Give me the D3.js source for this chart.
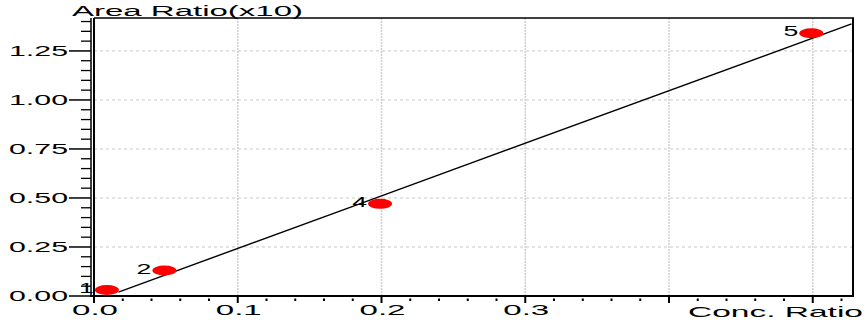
<!DOCTYPE html>
<html><head><meta charset="utf-8">
<script src="https://cdn.jsdelivr.net/npm/d3@7"></script>
<style>html,body{margin:0;padding:0;background:#fff;}svg{display:block;}</style>
</head><body>
<script>
// ---- data ----
const pointLabels = ["1", "2", "4", "5"];
const concRatio = [0.009, 0.049, 0.199, 0.499];
const areaRatio = [0.031, 0.13, 0.47, 1.34];
const fitConc = [0.017, 0.2, 0.527];
const fitArea = [0.020, 0.511, 1.388];
const xTicks = [0, 0.1, 0.2, 0.3, 0.4, 0.5];
const xTickLabels = ["0.0", "0.1", "0.2", "0.3", "", ""];
const yTicks = [0, 0.25, 0.5, 0.75, 1.0, 1.25];
const yTickLabels = ["0.00", "0.25", "0.50", "0.75", "1.00", "1.25"];
const xDomain = [0, 0.528];
const yDomain = [0, 1.418];
const xTitle = "Conc. Ratio";
const yTitle = "Area Ratio(x10)";

const W = 868, H = 324;
const L = 94, R = 853, T = 18, B = 296;
const x = d3.scaleLinear().domain(xDomain).range([L, R]);
const y = d3.scaleLinear().domain(yDomain).range([B, T]);
const font = "'Liberation Sans', Arial, sans-serif";

const svg = d3.select("body").append("svg").attr("width", W).attr("height", H);
svg.append("rect").attr("width", W).attr("height", H).attr("fill", "#fff");

// grid
svg.append("g").selectAll("line").data(yTicks.slice(1)).join("line")
  .attr("x1", L).attr("x2", R).attr("y1", d => y(d)).attr("y2", d => y(d))
  .attr("stroke", "#c8c8c8").attr("stroke-width", 1).attr("stroke-dasharray", "3,3");
svg.append("g").selectAll("line").data(xTicks.slice(1)).join("line")
  .attr("x1", d => x(d)).attr("x2", d => x(d)).attr("y1", T).attr("y2", B)
  .attr("stroke", "#d0d0d0").attr("stroke-width", 1.5).attr("stroke-dasharray", "2,1");

// x-axis ticks
const xMinor = d3.range(0, 0.53, 0.02).filter(v => Math.abs(v * 10 - Math.round(v * 10)) > 1e-6);
svg.append("g").selectAll("line").data(xMinor).join("line")
  .attr("x1", d => x(d)).attr("x2", d => x(d)).attr("y1", B + 2.5).attr("y2", B + 5)
  .attr("stroke", "#000").attr("stroke-width", 2);
svg.append("g").selectAll("line").data(xTicks).join("line")
  .attr("x1", d => x(d)).attr("x2", d => x(d)).attr("y1", B).attr("y2", B + 7)
  .attr("stroke", "#000").attr("stroke-width", 2);
svg.append("g").selectAll("text").data(xTicks).join("text")
  .attr("x", d => x(d) - 22).attr("y", 315)
  .attr("font-family", font).attr("font-size", 14)
  .attr("textLength", 46).attr("lengthAdjust", "spacingAndGlyphs")
  .text((d, i) => xTickLabels[i]);

// y-axis ticks
const yMinor = d3.range(0, 1.42, 0.05).filter(v => Math.abs(v * 4 - Math.round(v * 4)) > 1e-6);
svg.append("g").selectAll("line").data(yMinor).join("line")
  .attr("x1", 81).attr("x2", 91).attr("y1", d => y(d)).attr("y2", d => y(d))
  .attr("stroke", "#000").attr("stroke-width", 1.3);
svg.append("g").selectAll("line").data(yTicks).join("line")
  .attr("x1", 69).attr("x2", 91).attr("y1", d => y(d)).attr("y2", d => y(d))
  .attr("stroke", "#000").attr("stroke-width", 1.5);
svg.append("g").selectAll("text").data(yTicks).join("text")
  .attr("x", 9).attr("y", d => y(d) + 5)
  .attr("font-family", font).attr("font-size", 14)
  .attr("textLength", 59).attr("lengthAdjust", "spacingAndGlyphs")
  .text((d, i) => yTickLabels[i]);

// frame / axes
svg.append("line").attr("x1", 91).attr("x2", 91).attr("y1", T).attr("y2", B + 1)
  .attr("stroke", "#000").attr("stroke-width", 1.5);
svg.append("line").attr("x1", L).attr("x2", L).attr("y1", T).attr("y2", B + 1)
  .attr("stroke", "#000").attr("stroke-width", 2);
svg.append("line").attr("x1", L).attr("x2", R + 1).attr("y1", T).attr("y2", T)
  .attr("stroke", "#000").attr("stroke-width", 1.5);
svg.append("line").attr("x1", R).attr("x2", R).attr("y1", T).attr("y2", B + 1)
  .attr("stroke", "#000").attr("stroke-width", 2);
svg.append("line").attr("x1", 90).attr("x2", R + 1).attr("y1", B).attr("y2", B)
  .attr("stroke", "#000").attr("stroke-width", 2);

// fit line
const fit = fitConc.map((c, i) => [c, fitArea[i]]);
svg.append("path").datum(fit)
  .attr("d", d3.line().x(d => x(d[0])).y(d => y(d[1])))
  .attr("fill", "none").attr("stroke", "#000").attr("stroke-width", 1.4);

// points
const pts = concRatio.map((c, i) => ({ c, a: areaRatio[i], l: pointLabels[i] }));
svg.append("g").selectAll("ellipse").data(pts).join("ellipse")
  .attr("cx", d => x(d.c)).attr("cy", d => y(d.a)).attr("rx", 12).attr("ry", 5)
  .attr("fill", "#ff0000");
svg.append("g").selectAll("text").data(pts).join("text")
  .attr("x", d => x(d.c) - 13).attr("y", d => y(d.a) + 3)
  .attr("text-anchor", "end")
  .attr("font-family", font).attr("font-size", 14)
  .attr("transform", d => `translate(${x(d.c) - 13},0) scale(1.9,1) translate(${-(x(d.c) - 13)},0)`)
  .text(d => d.l);

// titles
svg.append("text").attr("x", 72).attr("y", 16)
  .attr("font-family", font).attr("font-size", 14)
  .attr("textLength", 231).attr("lengthAdjust", "spacingAndGlyphs")
  .text(yTitle);
svg.append("rect").attr("x", 686).attr("y", 303).attr("width", 182).attr("height", 21).attr("fill", "#fff");
svg.append("text").attr("x", 688).attr("y", 317)
  .attr("font-family", font).attr("font-size", 15)
  .attr("textLength", 175).attr("lengthAdjust", "spacingAndGlyphs")
  .text(xTitle);
</script>
</body></html>
